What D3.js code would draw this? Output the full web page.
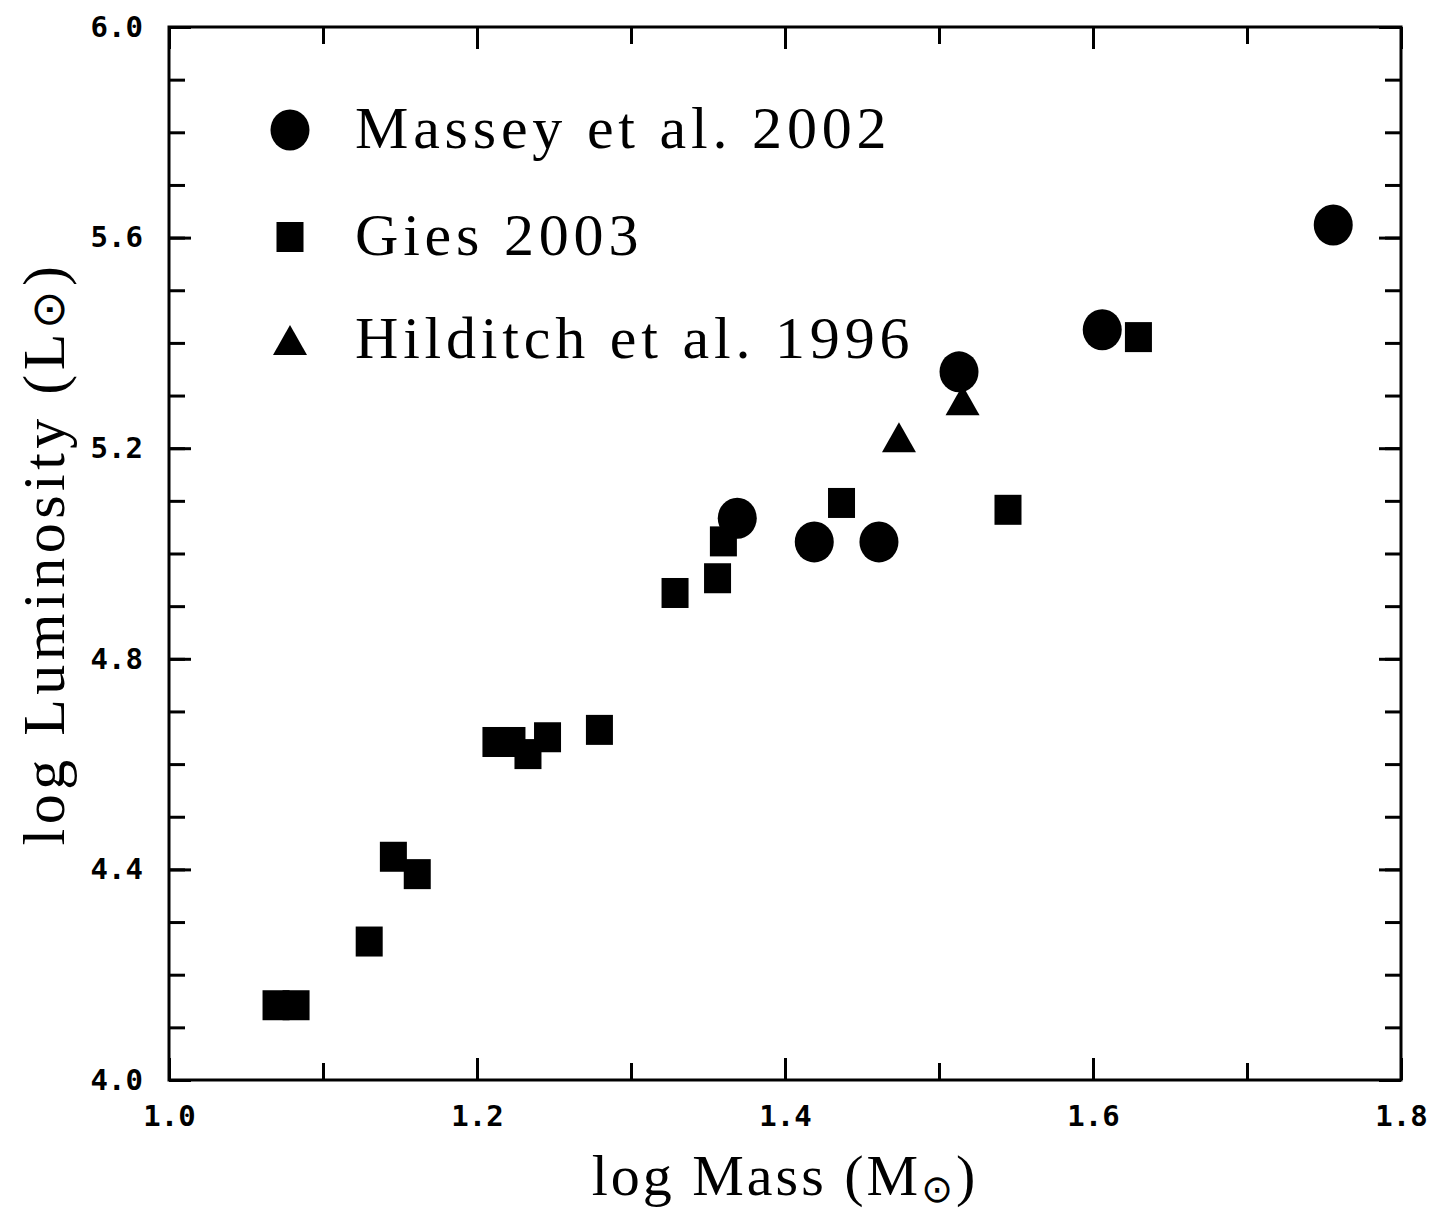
<!DOCTYPE html>
<html>
<head>
<meta charset="utf-8">
<script src="https://cdn.jsdelivr.net/npm/d3@7"></script>
<style>
  body { margin: 0; background: #fff; }
  svg { display: block; }
</style>
</head>
<body>
<svg id="chart" width="1433" height="1212"></svg>
<script>
// Mass–luminosity data for massive stars (log units, solar)
const masseyMass = [1.369, 1.419, 1.461, 1.513, 1.606, 1.756];
const masseyLum  = [5.067, 5.022, 5.022, 5.345, 5.425, 5.624];

const giesMass = [1.0695, 1.0825, 1.130, 1.1457, 1.1612, 1.2123, 1.2227, 1.2331, 1.2458, 1.2795,
                  1.3286, 1.3562, 1.3600, 1.4367, 1.5448, 1.6295];
const giesLum  = [4.142, 4.142, 4.263, 4.424, 4.391, 4.642, 4.642, 4.619, 4.651, 4.665,
                  4.925, 4.953, 5.023, 5.096, 5.083, 5.411];

const hilditchMass = [1.474, 1.5153];
const hilditchLum  = [5.221, 5.291];

const legendLabels = ["Massey et al. 2002", "Gies 2003", "Hilditch et al. 1996"];
const legendShapes = ["circle", "square", "triangle"];

const xTickValues = [1.0, 1.2, 1.4, 1.6, 1.8];
const xTickLabels = ["1.0", "1.2", "1.4", "1.6", "1.8"];
const yTickValues = [4.0, 4.4, 4.8, 5.2, 5.6, 6.0];
const yTickLabels = ["4.0", "4.4", "4.8", "5.2", "5.6", "6.0"];

// Layout
const margin = { left: 169, top: 27, right: 32, bottom: 132 };
const W = 1433, H = 1212;
const iw = W - margin.left - margin.right;   // 1232
const ih = H - margin.top - margin.bottom;   // 1053

const svg = d3.select("#chart");
const g = svg.append("g").attr("transform", `translate(${margin.left},${margin.top})`);

const x = d3.scaleLinear().domain([1.0, 1.8]).range([0, iw]);
const y = d3.scaleLinear().domain([4.0, 6.0]).range([ih, 0]);

const tickFont = "'DejaVu Sans Mono', monospace";
const serif = "'Liberation Serif', 'Times New Roman', serif";

// Inward ticks on all four sides
function styleAxis(sel) {
  sel.select(".domain").remove();
  sel.selectAll(".tick line").attr("stroke", "#000").attr("stroke-width", 3);
  sel.selectAll(".tick text")
     .attr("fill", "#000")
     .style("font-family", tickFont)
     .style("font-weight", "bold")
     .style("font-size", "29px");
}

// minor ticks (every 0.1)
g.append("g").attr("transform", `translate(0,${ih})`)
  .call(d3.axisBottom(x).ticks(8).tickSize(-17).tickFormat(""))
  .call(styleAxis);
g.append("g")
  .call(d3.axisTop(x).ticks(8).tickSize(-17).tickFormat(""))
  .call(styleAxis);
g.append("g")
  .call(d3.axisLeft(y).ticks(20).tickSize(-16).tickFormat(""))
  .call(styleAxis);
g.append("g").attr("transform", `translate(${iw},0)`)
  .call(d3.axisRight(y).ticks(20).tickSize(-16).tickFormat(""))
  .call(styleAxis);

// major ticks with labels
g.append("g").attr("transform", `translate(0,${ih})`)
  .call(d3.axisBottom(x).tickValues(xTickValues).tickSize(-22).tickPadding(25)
          .tickFormat((d, i) => xTickLabels[i]))
  .call(styleAxis);
g.append("g")
  .call(d3.axisTop(x).tickValues(xTickValues).tickSize(-22).tickFormat(""))
  .call(styleAxis);
g.append("g")
  .call(d3.axisLeft(y).tickValues(yTickValues).tickSize(-22).tickPadding(26)
          .tickFormat((d, i) => yTickLabels[i]))
  .call(styleAxis);
g.append("g").attr("transform", `translate(${iw},0)`)
  .call(d3.axisRight(y).tickValues(yTickValues).tickSize(-22).tickFormat(""))
  .call(styleAxis);

// Frame
g.append("rect")
  .attr("x", 0).attr("y", 0).attr("width", iw).attr("height", ih)
  .attr("fill", "none").attr("stroke", "#000").attr("stroke-width", 3);

// Marker drawers
const triPath = "M0,-15L17,15L-17,15Z";
function drawMarker(sel, shape) {
  if (shape === "circle") {
    sel.append("ellipse").attr("rx", 19.5).attr("ry", 20.5).attr("fill", "#000");
  } else if (shape === "square") {
    sel.append("rect").attr("x", -13.5).attr("y", -15).attr("width", 27).attr("height", 30).attr("fill", "#000");
  } else {
    sel.append("path").attr("d", triPath).attr("fill", "#000");
  }
}

function plotSeries(mass, lum, shape, cls) {
  const pts = mass.map((m, i) => ({ m, l: lum[i] }));
  g.append("g").attr("class", cls)
    .selectAll("g.pt").data(pts).join("g")
    .attr("class", "pt")
    .attr("transform", d => `translate(${x(d.m)},${y(d.l)})`)
    .each(function () { drawMarker(d3.select(this), shape); });
}

plotSeries(giesMass, giesLum, "square", "gies");
plotSeries(hilditchMass, hilditchLum, "triangle", "hilditch");
plotSeries(masseyMass, masseyLum, "circle", "massey");

// Legend
const legend = svg.append("g").attr("class", "legend");
const legendRowY = [130, 237, 340];
legendLabels.forEach((label, i) => {
  const row = legend.append("g").attr("transform", `translate(290,${legendRowY[i]})`);
  drawMarker(row, legendShapes[i]);
  row.append("text")
    .attr("x", 65).attr("y", 18)
    .style("font-family", serif)
    .style("font-size", "60px")
    .style("letter-spacing", "4.8px")
    .attr("fill", "#000")
    .text(label);
});

// Axis titles
const xt = svg.append("text")
  .attr("x", margin.left + iw / 2).attr("y", 1195)
  .attr("text-anchor", "middle")
  .style("font-family", serif).style("font-size", "58px").style("letter-spacing", "3px")
  .attr("fill", "#000");
xt.append("tspan").text("log Mass (M");
xt.append("tspan").attr("dy", 7).style("font-family", "'DejaVu Sans'").style("font-size", "38px").text("\u2299");
xt.append("tspan").attr("dy", -7).text(")");

const yt = svg.append("text")
  .attr("transform", `translate(64,${margin.top + ih / 2}) rotate(-90)`)
  .attr("text-anchor", "middle")
  .style("font-family", serif).style("font-size", "60px").style("letter-spacing", "4.5px")
  .attr("fill", "#000");
yt.append("tspan").text("log Luminosity (L");
yt.append("tspan").style("font-family", "'DejaVu Sans'").style("font-size", "46px").text("\u2299");
yt.append("tspan").text(")");
</script>
</body>
</html>
